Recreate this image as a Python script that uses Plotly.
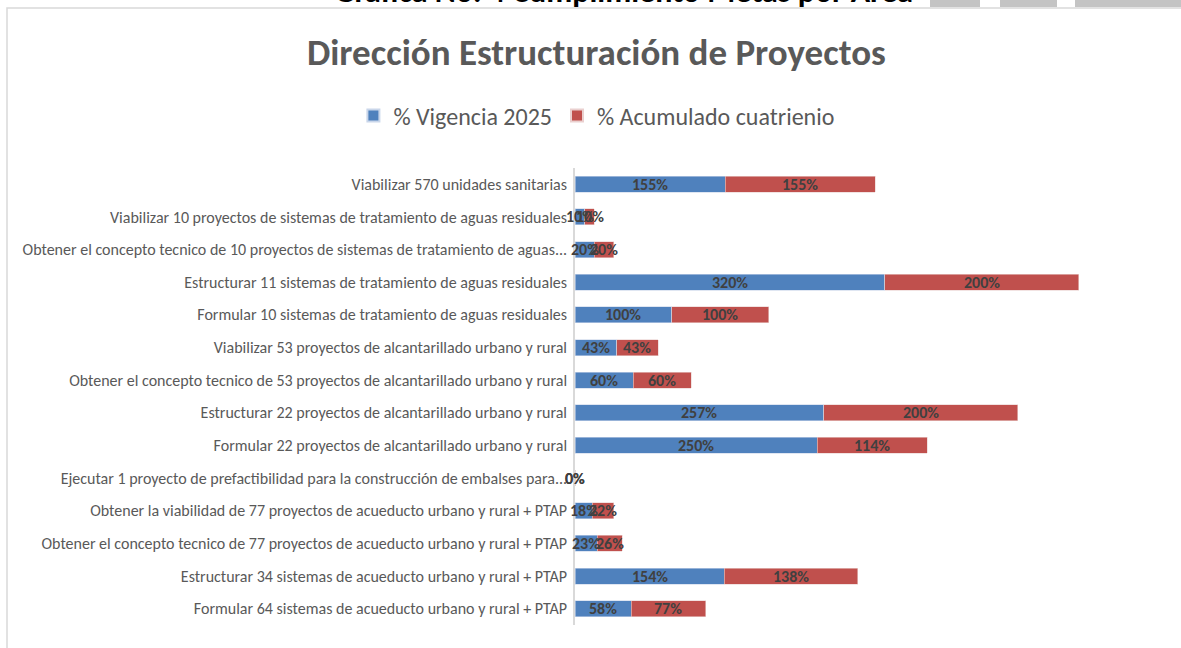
import plotly.graph_objects as go

categories = [
    "Viabilizar 570 unidades sanitarias",
    "Viabilizar 10 proyectos de sistemas de tratamiento de aguas residuales",
    "Obtener el concepto tecnico de 10 proyectos de sistemas de tratamiento de aguas...",
    "Estructurar 11 sistemas de tratamiento de aguas residuales",
    "Formular 10 sistemas de tratamiento de aguas residuales",
    "Viabilizar 53 proyectos de alcantarillado urbano y rural",
    "Obtener el concepto tecnico de 53 proyectos de alcantarillado urbano y rural",
    "Estructurar 22 proyectos de alcantarillado urbano y rural",
    "Formular 22 proyectos de alcantarillado urbano y rural",
    "Ejecutar 1 proyecto de prefactibilidad para la construcción de embalses para...",
    "Obtener la viabilidad de 77 proyectos de acueducto urbano y rural + PTAP",
    "Obtener el concepto tecnico de 77 proyectos de acueducto urbano y rural + PTAP",
    "Estructurar 34 sistemas de acueducto urbano y rural + PTAP",
    "Formular 64 sistemas de acueducto urbano y rural + PTAP",
]
vigencia_2025 = [155, 10, 20, 320, 100, 43, 60, 257, 250, 0, 18, 23, 154, 58]
acumulado_cuatrienio = [155, 10, 20, 200, 100, 43, 60, 200, 114, 0, 22, 26, 138, 77]
series_names = ["% Vigencia 2025", "% Acumulado cuatrienio"]

BLUE = "#4f81bd"
RED = "#c0504d"
GRAY = "#595959"
FONT = "Carlito, Calibri, Open Sans, sans-serif"

W, H = 1181, 648
L, R, T, B = 575, 25, 168, 23
XMAX = 600
pw = W - L - R
ph = H - T - B

def px_x(p):
    return (p - L) / pw

def px_y(p):
    return 1 - (p - T) / ph

fig = go.Figure()
fig.add_trace(go.Bar(
    y=categories, x=vigencia_2025, orientation="h", name=series_names[0],
    marker=dict(color=BLUE, line=dict(color="#c9d6ea", width=0.6)),
))
fig.add_trace(go.Bar(
    y=categories, x=acumulado_cuatrienio, orientation="h", name=series_names[1],
    marker=dict(color=RED, line=dict(color="#ead0cf", width=0.6)),
))

annotations = []
for cat, v, a in zip(categories, vigencia_2025, acumulado_cuatrienio):
    for xc, val in ((v / 2, v), (v + a / 2, a)):
        annotations.append(dict(
            x=xc, y=cat, xref="x", yref="y", text=f"<b>{val}%</b>", showarrow=False,
            font=dict(family=FONT, size=16, color="#404040"),
            xanchor="center", yanchor="middle",
        ))

# cut-off page header above the chart
annotations.append(dict(
    x=px_x(623), y=px_y(-9), xref="paper", yref="paper",
    text="<b>Gráfica No. 4 Cumplimiento Metas por Área</b>", showarrow=False,
    font=dict(family=FONT, size=32, color="#000000"),
    xanchor="center", yanchor="middle",
))

shapes = []
# grey background image strip at top right
for x0, x1 in ((930, 980), (1000, 1057), (1075, 1181)):
    shapes.append(dict(type="rect", xref="paper", yref="paper",
                       x0=px_x(x0), x1=px_x(x1), y0=px_y(7), y1=px_y(-2),
                       fillcolor="#c4c4c4", line=dict(width=0), layer="below"))
# chart border
shapes.append(dict(type="rect", xref="paper", yref="paper",
                   x0=px_x(7), x1=px_x(1185), y0=px_y(660), y1=px_y(8),
                   fillcolor="rgba(0,0,0,0)", line=dict(color="#d9d9d9", width=1.5)))

fig.update_layout(
    width=W, height=H,
    barmode="stack", bargap=0.51,
    margin=dict(l=L, r=R, t=T, b=B, pad=0),
    paper_bgcolor="white", plot_bgcolor="white",
    font=dict(family=FONT, color=GRAY),
    title=dict(text="<b>Dirección Estructuración de Proyectos</b>",
               x=0.505, xanchor="center", xref="container",
               y=1 - 52 / H, yanchor="middle", yref="container",
               font=dict(family=FONT, size=37, color=GRAY)),
    legend=dict(orientation="h", x=0.505, xanchor="center", xref="container",
                y=1 - 116 / H, yanchor="middle", yref="container",
                font=dict(family=FONT, size=24, color=GRAY),
                traceorder="normal", itemwidth=30, itemsizing="constant"),
    xaxis=dict(range=[0, XMAX], showgrid=False, showticklabels=False,
               zeroline=False, showline=False, fixedrange=True),
    yaxis=dict(autorange="reversed", showgrid=False, showline=True,
               linecolor="#d9d9d9", linewidth=1.5, ticks="", ticklen=0,
               tickfont=dict(family=FONT, size=16, color=GRAY),
               ticklabelstandoff=3, fixedrange=True),
    annotations=annotations, shapes=shapes,
    showlegend=True,
)

fig.write_html("out.html", config={"displayModeBar": False},
               post_script="document.body.style.margin='0';document.body.style.overflow='hidden';")
